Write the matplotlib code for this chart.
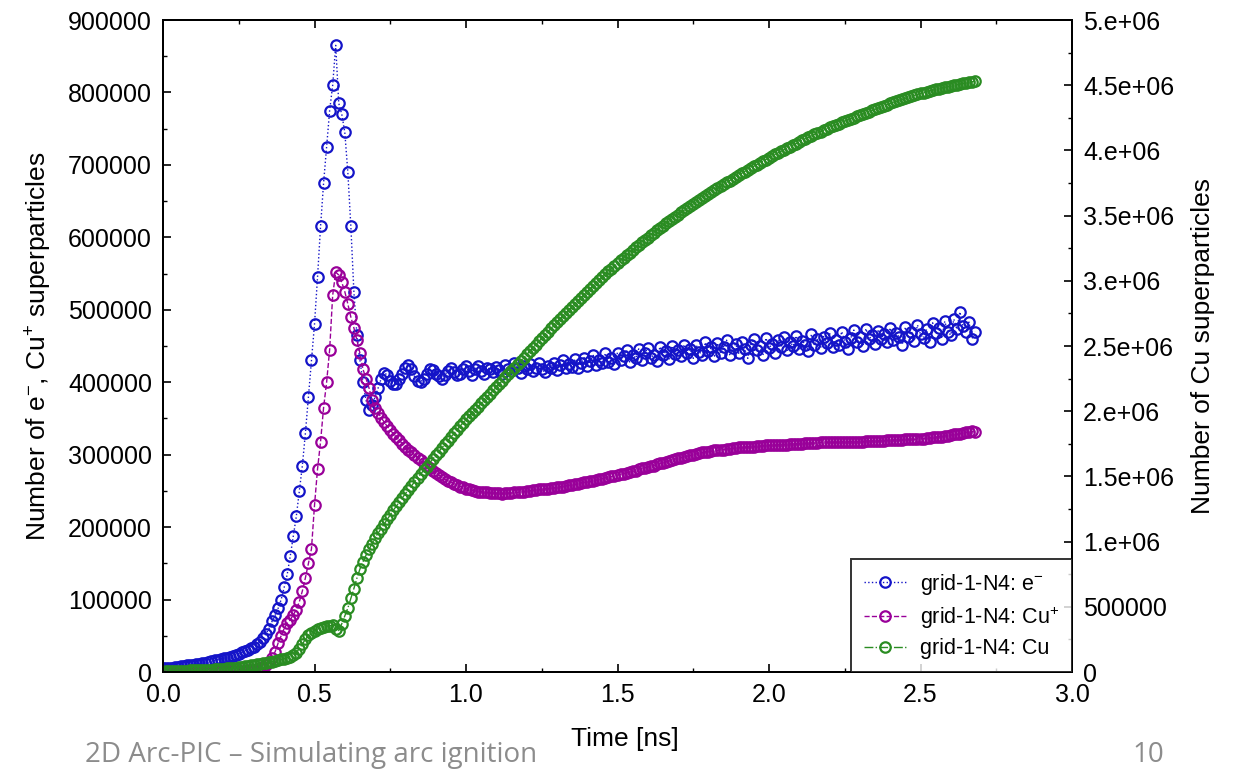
import matplotlib
matplotlib.use('Agg')
import matplotlib.pyplot as plt
import numpy as np
from matplotlib.ticker import MultipleLocator, FixedLocator, FixedFormatter


# sampling step of the simulation output [ns]
DT = 0.01

# electrons [thousands], t = 0.00 ... 2.68 ns
electrons_k = [
    5, 5, 6, 6, 7, 7, 8, 8, 9, 9,
    10, 11, 11, 12, 13, 14, 15, 16, 17, 18,
    19, 20, 21, 22, 24, 25, 27, 29, 31, 33,
    35, 38, 42, 47, 53, 60, 70, 78, 88, 100,
    117, 135, 160, 188, 215, 250, 285, 330, 380, 430,
    480, 545, 615, 675, 725, 775, 810, 865, 785, 770,
    745, 690, 615, 525, 465, 430, 400, 375, 362, 368,
    380, 392, 405, 413, 410, 402, 397, 398, 404, 412,
    420, 424, 418, 408, 401, 400, 405, 412, 418, 417,
    412, 408, 405, 410, 416, 420, 414, 410, 412, 418,
    422, 415, 410, 418, 423, 416, 412, 420, 418, 414,
    421, 417, 412, 424, 418, 415, 426, 419, 413, 422,
    418, 425, 416, 420, 427, 418, 414, 423, 420, 427,
    417, 424, 430, 419, 425, 421, 432, 420, 426, 434,
    422, 429, 437, 424, 431, 426, 440, 428, 433, 425,
    441, 430, 436, 444, 428, 438, 433, 446, 431, 440,
    447, 434, 438, 429, 449, 437, 443, 432, 450, 439,
    445, 436, 452, 440, 446, 433, 451, 442, 437, 455,
    443, 448, 436, 454, 441, 449, 458, 438, 447, 453,
    440, 456, 446, 433, 452, 459, 444, 450, 437, 461,
    447, 453, 441, 458, 449, 462, 444, 455, 450, 464,
    446, 457, 452, 443, 466, 451, 459, 447, 463, 454,
    468, 449, 458, 452, 470, 456, 446, 461, 472, 455,
    462, 450, 474, 459, 465, 453, 471, 460, 467, 455,
    475, 458, 468, 462, 452, 476, 463, 470, 457, 479,
    466, 461, 473, 456, 482, 468, 475, 460, 484, 470,
    465, 487, 473, 497, 478, 469, 483, 460, 470,
]

# Cu+ ions [thousands]
ions_k = [
    0, 0, 0, 0, 0, 0, 0, 0, 0, 0,
    0, 0, 0, 0, 1, 1, 1, 1, 1, 1,
    1, 1, 1, 2, 2, 2, 2, 2, 3, 3,
    3, 4, 5, 7, 10, 14, 20, 28, 40, 50,
    60, 67, 72, 79, 86, 97, 112, 130, 150, 170,
    230, 280, 318, 365, 400, 445, 520, 552, 548, 538,
    525, 508, 490, 475, 458, 440, 418, 405, 392, 375,
    365, 358, 351, 345, 339, 334, 329, 324, 320, 315,
    311, 307, 304, 300, 296, 292, 288, 284, 281, 278,
    275, 272, 269, 266, 264, 262, 260, 258, 256, 255,
    253, 252, 251, 250, 249, 249, 248, 248, 247, 247,
    247, 247, 246, 247, 247, 247, 248, 248, 249, 249,
    250, 250, 251, 251, 252, 252, 253, 253, 254, 254,
    255, 256, 256, 257, 258, 258, 259, 260, 261, 262,
    262, 263, 264, 265, 266, 267, 268, 269, 270, 271,
    272, 273, 274, 275, 276, 277, 278, 280, 281, 282,
    283, 284, 285, 287, 288, 289, 290, 291, 293, 294,
    295, 296, 297, 298, 299, 300, 301, 302, 303, 304,
    304, 305, 306, 306, 307, 307, 308, 308, 309, 309,
    310, 310, 310, 311, 311, 311, 312, 312, 312, 313,
    313, 313, 313, 314, 314, 314, 314, 315, 315, 315,
    315, 315, 316, 316, 316, 316, 316, 317, 317, 317,
    317, 317, 317, 317, 318, 318, 318, 318, 318, 318,
    318, 318, 319, 319, 319, 319, 319, 319, 319, 320,
    320, 320, 320, 320, 320, 321, 321, 321, 321, 322,
    322, 322, 323, 323, 324, 324, 325, 325, 326, 326,
    327, 328, 328, 329, 330, 331, 331, 332, 331,
]

# neutral Cu [thousands], right axis
neutrals_k = [
    3, 4, 5, 6, 7, 8, 9, 10, 11, 12,
    13, 14, 15, 16, 17, 18, 19, 20, 22, 24,
    26, 28, 30, 32, 34, 37, 40, 43, 46, 50,
    54, 58, 62, 66, 70, 74, 79, 84, 90, 96,
    103, 110, 118, 130, 148, 180, 215, 250, 280, 300,
    318, 330, 338, 345, 352, 355, 358, 330, 318, 370,
    430, 490, 565, 640, 720, 790, 845, 895, 940, 985,
    1030, 1065, 1100, 1135, 1170, 1205, 1240, 1272, 1305, 1337,
    1368, 1398, 1428, 1458, 1488, 1517, 1546, 1575, 1604, 1632,
    1662, 1690, 1718, 1746, 1774, 1802, 1830, 1857, 1884, 1911,
    1938, 1962, 1986, 2010, 2035, 2060, 2085, 2110, 2135, 2160,
    2185, 2210, 2235, 2260, 2285, 2310, 2335, 2360, 2385, 2410,
    2435, 2460, 2485, 2510, 2535, 2560, 2585, 2610, 2635, 2659,
    2683, 2707, 2731, 2755, 2779, 2802, 2825, 2848, 2871, 2894,
    2917, 2940, 2962, 2984, 3006, 3028, 3050, 3072, 3094, 3115,
    3136, 3156, 3176, 3196, 3216, 3236, 3256, 3275, 3294, 3313,
    3332, 3351, 3369, 3387, 3405, 3423, 3440, 3457, 3474, 3491,
    3508, 3525, 3541, 3557, 3573, 3589, 3605, 3621, 3636, 3651,
    3666, 3681, 3696, 3711, 3726, 3740, 3754, 3768, 3782, 3796,
    3810, 3824, 3838, 3852, 3865, 3878, 3891, 3904, 3917, 3930,
    3943, 3956, 3969, 3981, 3993, 4005, 4017, 4029, 4041, 4052,
    4065, 4077, 4089, 4100, 4111, 4122, 4133, 4144, 4155, 4166,
    4176, 4186, 4196, 4206, 4216, 4225, 4234, 4243, 4252, 4261,
    4270, 4279, 4288, 4297, 4306, 4315, 4324, 4333, 4342, 4351,
    4360, 4368, 4376, 4384, 4392, 4400, 4408, 4416, 4423, 4430,
    4437, 4444, 4450, 4456, 4462, 4468, 4474, 4479, 4484, 4489,
    4494, 4499, 4504, 4509, 4514, 4518, 4522, 4526, 4530,
]

series_labels = ['grid-1-N4: e$^{-}$', 'grid-1-N4: Cu$^{+}$', 'grid-1-N4: Cu']

left_ticks = [0, 100000, 200000, 300000, 400000, 500000, 600000, 700000, 800000, 900000]
right_ticks = [0, 500000, 1e6, 1.5e6, 2e6, 2.5e6, 3e6, 3.5e6, 4e6, 4.5e6, 5e6]
right_tick_labels = ['0', '500000', '1.e+06', '1.5e+06', '2.e+06', '2.5e+06',
                     '3.e+06', '3.5e+06', '4.e+06', '4.5e+06', '5.e+06']
x_ticks = [0.0, 0.5, 1.0, 1.5, 2.0, 2.5, 3.0]

FOOTER_TEXT = '2D Arc-PIC \u2013 Simulating arc ignition'
PAGE_NUMBER = '10'


def main():
    plt.rcParams['font.family'] = ['Liberation Sans', 'DejaVu Sans']
    plt.rcParams['mathtext.fontset'] = 'custom'
    plt.rcParams['mathtext.rm'] = 'Liberation Sans'
    plt.rcParams['mathtext.it'] = 'Liberation Sans'
    plt.rcParams['mathtext.default'] = 'regular'

    t = np.arange(len(electrons_k)) * DT
    electrons = np.array(electrons_k) * 1000
    ions = np.array(ions_k) * 1000
    neutrals = np.array(neutrals_k) * 1000

    fig = plt.figure(figsize=(12.44, 7.69), dpi=100)
    ax = fig.add_axes([163 / 1244, 1 - 672 / 769, (1072 - 163) / 1244, (672 - 20) / 769])
    ax2 = ax.twinx()

    marker_style = dict(marker='o', markersize=7.5, markerfacecolor='none',
                        markeredgewidth=1.6, linewidth=1.0)
    h1, = ax.plot(t, electrons, linestyle=':', color='#1414c8',
                  markeredgecolor='#1414c8', label=series_labels[0], **marker_style)
    h2, = ax.plot(t, ions, linestyle='--', color='#990099',
                  markeredgecolor='#990099', label=series_labels[1], **marker_style)
    h3, = ax2.plot(t, neutrals, linestyle='-.', color='#2a8c22',
                   markeredgecolor='#2a8c22', label=series_labels[2], **marker_style)

    ax.set_xlim(0, 3.0)
    ax.set_ylim(0, 900000)
    ax2.set_ylim(0, 5e6)

    ax.xaxis.set_major_locator(FixedLocator(x_ticks))
    ax.xaxis.set_minor_locator(MultipleLocator(0.25))
    ax.set_xticklabels(['%.1f' % v for v in x_ticks])
    ax.yaxis.set_major_locator(FixedLocator(left_ticks))
    ax.yaxis.set_minor_locator(MultipleLocator(50000))
    ax.set_yticklabels([str(v) for v in left_ticks])
    ax2.yaxis.set_major_locator(FixedLocator(right_ticks))
    ax2.yaxis.set_major_formatter(FixedFormatter(right_tick_labels))
    ax2.yaxis.set_minor_locator(MultipleLocator(250000))

    ax.tick_params(axis='both', which='major', direction='in', length=6, width=1.2,
                   labelsize=18, pad=8, top=True)
    ax.tick_params(axis='both', which='minor', direction='in', length=3, width=1.0, top=True)
    ax.tick_params(axis='y', which='both', right=False)
    ax2.tick_params(axis='y', which='major', direction='in', length=6, width=1.2,
                    labelsize=18, pad=8)
    ax2.tick_params(axis='y', which='minor', direction='in', length=3, width=1.0)

    for a in (ax, ax2):
        for sp in a.spines.values():
            sp.set_linewidth(1.4)

    ax.set_xlabel('Time [ns]', fontsize=19, labelpad=14)
    ax.xaxis.set_label_coords(0.508, -0.085)
    ax.set_ylabel('Number of e$^{-}$, Cu$^{+}$ superparticles', fontsize=19, labelpad=10)
    ax2.set_ylabel('Number of Cu superparticles', fontsize=19, rotation=90, labelpad=12)

    leg = ax2.legend(handles=[h1, h2, h3], loc='lower right', fontsize=15.5,
                     frameon=True, fancybox=False, borderaxespad=0.0,
                     handlelength=2.0, handletextpad=0.6, labelspacing=0.35,
                     borderpad=0.6)
    leg.get_frame().set_edgecolor('black')
    leg.get_frame().set_linewidth(1.4)

    fig.text(85 / 1244, 1 - 755 / 769, FOOTER_TEXT, fontsize=20, color='#8c8c8c',
             family=['Open Sans', 'DejaVu Sans'], va='center', ha='left')
    fig.text(1148 / 1244, 1 - 755 / 769, PAGE_NUMBER, fontsize=20, color='#8c8c8c',
             family=['Open Sans', 'DejaVu Sans'], va='center', ha='center')

    fig.savefig('out.png', dpi=100)


if __name__ == '__main__':
    main()
